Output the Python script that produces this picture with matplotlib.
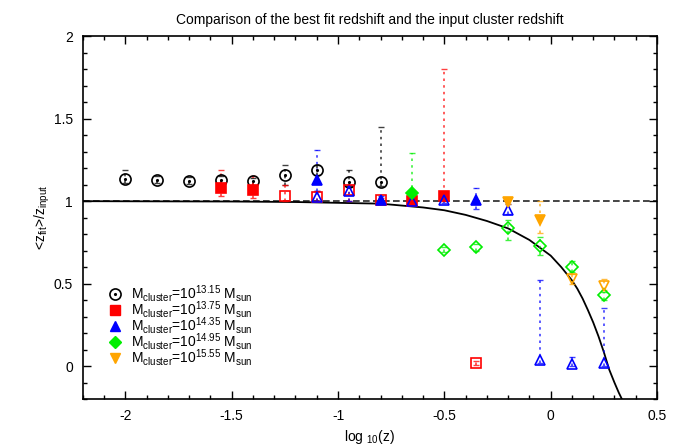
import numpy as np
import matplotlib.pyplot as plt
from matplotlib.lines import Line2D
from matplotlib.legend_handler import HandlerTuple

plt.rcParams['font.family'] = ['Liberation Sans', 'DejaVu Sans']
plt.rcParams['mathtext.default'] = 'regular'

# log10(z) and <z_fit>/z_input, with lower/upper error limits
x_1315 = [-2.0, -1.85, -1.7, -1.55, -1.4, -1.25, -1.1, -0.95, -0.8]
y_1315 = [1.133, 1.13, 1.125, 1.13, 1.12, 1.158, 1.19, 1.117, 1.117]
lo_1315 = [1.11, 1.11, 1.105, 1.11, 1.10, 1.10, 1.16, 1.09, 1.09]
hi_1315 = [1.19, 1.15, 1.145, 1.15, 1.14, 1.22, 1.22, 1.19, 1.45]

x_1375 = [-1.55, -1.4, -0.65, -0.5]
y_1375 = [1.08, 1.067, 1.0, 1.03]
lo_1375 = [1.03, 1.02, 0.98, 1.0]
hi_1375 = [1.19, 1.15, 1.02, 1.80]
x_1375o = [-1.25, -1.1, -0.95, -0.8, -0.35]
y_1375o = [1.03, 1.026, 1.067, 1.005, 0.02]
lo_1375o = [1.0, 1.0, 1.0, 0.98, 0.01]
hi_1375o = [1.10, 1.06, 1.10, 1.02, 0.03]

x_1435 = [-1.1, -0.8, -0.35]
y_1435 = [1.13, 1.01, 1.007]
lo_1435 = [1.06, 0.99, 0.955]
hi_1435 = [1.31, 1.03, 1.08]
x_1435o = [-1.1, -0.95, -0.65, -0.5, -0.2, -0.05, 0.1, 0.25]
y_1435o = [1.026, 1.06, 1.0, 1.006, 0.945, 0.035, 0.015, 0.018]
lo_1435o = [1.0, 1.0, 0.99, 0.99, 0.92, 0.02, 0.0, 0.0]
hi_1435o = [1.06, 1.10, 1.01, 1.02, 0.98, 0.525, 0.055, 0.35]

x_1495 = [-0.65]
y_1495 = [1.05]
lo_1495 = [1.0]
hi_1495 = [1.29]
x_1495o = [-0.5, -0.35, -0.2, -0.05, 0.1, 0.25]
y_1495o = [0.703, 0.72, 0.835, 0.727, 0.6, 0.43]
lo_1495o = [0.69, 0.70, 0.767, 0.675, 0.57, 0.40]
hi_1495o = [0.72, 0.74, 0.885, 0.78, 0.64, 0.45]

x_1555 = [-0.2, -0.05]
y_1555 = [0.996, 0.885]
lo_1555 = [0.98, 0.81]
hi_1555 = [1.01, 1.0]
x_1555o = [0.1, 0.25]
y_1555o = [0.53, 0.485]
lo_1555o = [0.5, 0.46]
hi_1555o = [0.56, 0.53]

# model curve
curve_x = [-2.2, -1.5, -1.2, -1.0, -0.8, -0.6, -0.5, -0.4, -0.3, -0.2, -0.1, 0.0, 0.05, 0.1,
           0.125, 0.15, 0.175, 0.2, 0.225, 0.25, 0.275, 0.3, 0.32, 0.335]
curve_y = [1.0, 0.998, 0.995, 0.99, 0.985, 0.962, 0.945, 0.917, 0.88, 0.835, 0.765, 0.67, 0.6, 0.52,
           0.47, 0.41, 0.34, 0.265, 0.18, 0.085, -0.02, -0.1, -0.16, -0.2]

labels = [r'M$_{cluster}$=10$^{13.15}$ M$_{sun}$',
          r'M$_{cluster}$=10$^{13.75}$ M$_{sun}$',
          r'M$_{cluster}$=10$^{14.35}$ M$_{sun}$',
          r'M$_{cluster}$=10$^{14.95}$ M$_{sun}$',
          r'M$_{cluster}$=10$^{15.55}$ M$_{sun}$']


def draw(ax, x, y, lo, hi, color, marker, ms, filled):
    y = np.array(y)
    yerr = [y - np.array(lo), np.array(hi) - y]
    eb = ax.errorbar(x, y, yerr=yerr, fmt='none', ecolor=color, elinewidth=1.2,
                     capsize=2.5, capthick=1.0, alpha=0.75, zorder=2)
    eb[2][0].set_linestyle((0, (1.5, 2.5)))
    ax.plot(x, y, linestyle='none', marker=marker, markersize=ms, color=color,
            markerfacecolor=color if filled else 'none', markeredgewidth=1.2, zorder=3)


fig = plt.figure()
fig.set_size_inches(6.96, 4.47)
ax = fig.add_axes([0.119, 0.107, 0.825, 0.812])

ax.axhline(1.0, color='0.15', linestyle=(0, (4, 2)), linewidth=1.2, zorder=1)
ax.plot(curve_x, curve_y, color='black', linewidth=1.3, zorder=1)

draw(ax, x_1315, y_1315, lo_1315, hi_1315, 'black', 'o', 8, False)
ax.plot(x_1315, y_1315, linestyle='none', marker='.', markersize=2.5, color='black', zorder=3)
draw(ax, x_1375, y_1375, lo_1375, hi_1375, 'red', 's', 7, True)
draw(ax, x_1375o, y_1375o, lo_1375o, hi_1375o, 'red', 's', 7, False)
draw(ax, x_1435, y_1435, lo_1435, hi_1435, 'blue', '^', 7, True)
draw(ax, x_1435o, y_1435o, lo_1435o, hi_1435o, 'blue', '^', 7, False)
draw(ax, x_1495, y_1495, lo_1495, hi_1495, '#00ee00', 'D', 6, True)
draw(ax, x_1495o, y_1495o, lo_1495o, hi_1495o, '#00ee00', 'D', 6, False)
draw(ax, x_1555, y_1555, lo_1555, hi_1555, 'orange', 'v', 7, True)
draw(ax, x_1555o, y_1555o, lo_1555o, hi_1555o, 'orange', 'v', 7, False)

ax.set_xlim(-2.2, 0.5)
ax.set_ylim(-0.2, 2.0)
ax.set_xticks([-2, -1.5, -1, -0.5, 0, 0.5])
ax.set_xticklabels(['-2', '-1.5', '-1', '-0.5', '0', '0.5'])
ax.set_yticks([0, 0.5, 1, 1.5, 2])
ax.set_yticklabels(['0', '0.5', '1', '1.5', '2'])
ax.set_xticks(np.arange(-2.2, 0.51, 0.1), minor=True)
ax.set_yticks(np.arange(-0.2, 2.01, 0.1), minor=True)
ax.yaxis.set_ticks_position('both')
ax.xaxis.set_ticks_position('both')
ax.tick_params(which='major', direction='in', length=6, width=1.0, labelsize=10, pad=7)
ax.tick_params(which='minor', direction='in', length=3, width=1.0)
for s in ax.spines.values():
    s.set_linewidth(1.2)

ax.set_title('Comparison of the best fit redshift and the input cluster redshift', fontsize=10, pad=9)
ax.set_xlabel(r'log $_{10}$(z)', fontsize=10, labelpad=4)
ax.set_ylabel(r'<z$_{fit}$>/z$_{input}$', fontsize=10, labelpad=1)

h_circ = (Line2D([], [], linestyle='none', marker='o', markersize=8, color='black',
                 markerfacecolor='none', markeredgewidth=1.2),
          Line2D([], [], linestyle='none', marker='.', markersize=2.5, color='black'))
handles = [h_circ,
           Line2D([], [], linestyle='none', marker='s', markersize=7, color='red'),
           Line2D([], [], linestyle='none', marker='^', markersize=7, color='blue'),
           Line2D([], [], linestyle='none', marker='D', markersize=6, color='#00ee00'),
           Line2D([], [], linestyle='none', marker='v', markersize=7, color='orange')]
ax.legend(handles, labels, loc='lower left', bbox_to_anchor=(0.025, 0.058), frameon=False,
          fontsize=10, handlelength=1.2, handletextpad=0.55, labelspacing=-0.35,
          borderpad=0.2, handler_map={tuple: HandlerTuple(ndivide=1, pad=0)})

plt.savefig('out.png', dpi=100)
plt.close()
